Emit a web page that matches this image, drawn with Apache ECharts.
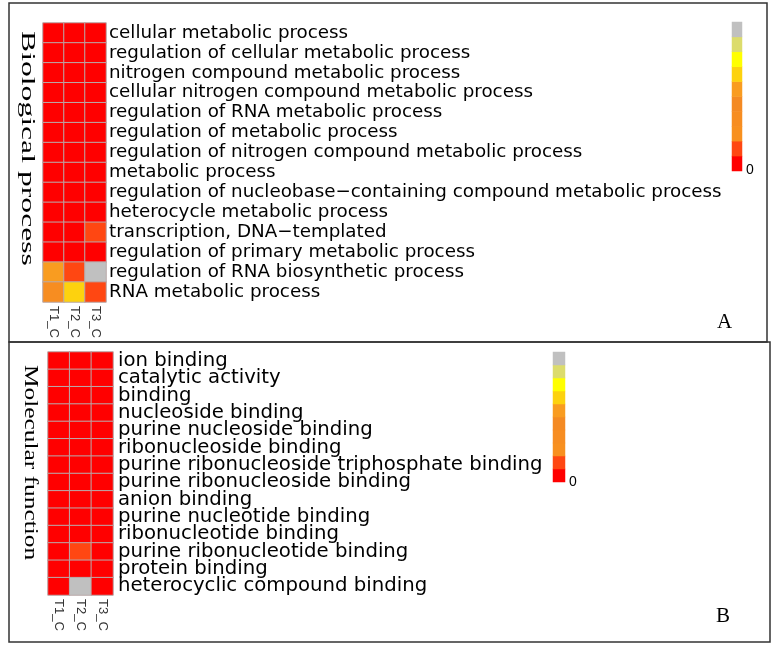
<!DOCTYPE html>
<html>
<head>
<meta charset="utf-8">
<script src="https://cdn.jsdelivr.net/npm/echarts@6/dist/echarts.min.js"></script>
<style>html,body{margin:0;padding:0;background:#fff}#c{width:775px;height:645px}</style>
</head>
<body>
<div id="c"></div>
<script>
// ---- data ----
const samples = ['T1_C', 'T2_C', 'T3_C'];

const bpTerms = [
  'cellular metabolic process',
  'regulation of cellular metabolic process',
  'nitrogen compound metabolic process',
  'cellular nitrogen compound metabolic process',
  'regulation of RNA metabolic process',
  'regulation of metabolic process',
  'regulation of nitrogen compound metabolic process',
  'metabolic process',
  'regulation of nucleobase\u2212containing compound metabolic process',
  'heterocycle metabolic process',
  'transcription, DNA\u2212templated',
  'regulation of primary metabolic process',
  'regulation of RNA biosynthetic process',
  'RNA metabolic process'
];
// colour level per term (rows) for T1_C, T2_C, T3_C; 'NA' = grey
const bpLevels = [
  [0, 0, 0], [0, 0, 0], [0, 0, 0], [0, 0, 0], [0, 0, 0], [0, 0, 0], [0, 0, 0],
  [0, 0, 0], [0, 0, 0], [0, 0, 0], [0, 0, 1], [0, 0, 0], [5, 1, 'NA'], [3, 6, 1]
];

const mfTerms = [
  'ion binding',
  'catalytic activity',
  'binding',
  'nucleoside binding',
  'purine nucleoside binding',
  'ribonucleoside binding',
  'purine ribonucleoside triphosphate binding',
  'purine ribonucleoside binding',
  'anion binding',
  'purine nucleotide binding',
  'ribonucleotide binding',
  'purine ribonucleotide binding',
  'protein binding',
  'heterocyclic compound binding'
];
const mfLevels = [
  [0, 0, 0], [0, 0, 0], [0, 0, 0], [0, 0, 0], [0, 0, 0], [0, 0, 0], [0, 0, 0],
  [0, 0, 0], [0, 0, 0], [0, 0, 0], [0, 0, 0], [0, 1, 0], [0, 0, 0], [0, 'NA', 0]
];

// colour key, bottom (0) to top (grey = NA)
const keyLevels = [0, 1, 2, 3, 4, 5, 6, 7, 8, 9];
const keyTickLabels = ['0', '', '', '', '', '', '', '', '', ''];
const NA_LEVEL = 9;
const levelColors = ['#ff0000', '#ff4712', '#f8901f', '#f78d21', '#f48a23', '#f99c20',
                     '#fdd20e', '#ffff00', '#dcdc6c', '#c0c0c0'];

// ---- build ----
function toCells(levels) {
  const out = [];
  levels.forEach((row, r) => row.forEach((v, c) => out.push([c, r, v === 'NA' ? NA_LEVEL : v])));
  return out;
}
const keyCells = keyLevels.map((v, i) => [0, i, v]);

const chart = echarts.init(document.getElementById('c'), null, {renderer: 'canvas'});
const sans = 'Liberation Sans, Arial, sans-serif';
const wide = 'DejaVu Sans, sans-serif';
const serif = 'Liberation Serif, Times New Roman, serif';

const cellStyle = {borderColor: '#b9a9a9', borderWidth: 1};

function catAxis(data, extra) {
  return Object.assign({
    type: 'category', data: data,
    axisLine: {show: false}, axisTick: {show: false}, splitLine: {show: false}, splitArea: {show: false}
  }, extra);
}

chart.setOption({
  animation: false,
  backgroundColor: '#fff',
  grid: [
    {left: 43, top: 23, width: 63, height: 279},
    {left: 48, top: 352, width: 65, height: 243},
    {left: 732, top: 22, width: 10, height: 149},
    {left: 553, top: 352, width: 12, height: 130}
  ],
  xAxis: [
    catAxis(samples, {gridIndex: 0, position: 'bottom',
      axisLabel: {rotate: -90, margin: 4, fontSize: 13, color: '#333', fontFamily: sans}}),
    catAxis(samples, {gridIndex: 1, position: 'bottom',
      axisLabel: {rotate: -90, margin: 4, fontSize: 13, color: '#333', fontFamily: sans}}),
    catAxis(['k'], {gridIndex: 2, axisLabel: {show: false}}),
    catAxis(['k'], {gridIndex: 3, axisLabel: {show: false}})
  ],
  yAxis: [
    catAxis(bpTerms, {gridIndex: 0, position: 'right', inverse: true,
      axisLabel: {margin: 3, fontSize: 18.3, color: '#000', fontFamily: wide, interval: 0}}),
    catAxis(mfTerms, {gridIndex: 1, position: 'right', inverse: true,
      axisLabel: {margin: 5, fontSize: 19.7, color: '#000', fontFamily: wide, interval: 0}}),
    catAxis(keyTickLabels, {gridIndex: 2, position: 'right',
      axisLabel: {margin: 4, fontSize: 14, color: '#000', fontFamily: sans, interval: 0,
        verticalAlign: 'top'}}),
    catAxis(keyTickLabels, {gridIndex: 3, position: 'right',
      axisLabel: {margin: 4, fontSize: 14, color: '#000', fontFamily: sans, interval: 0,
        verticalAlign: 'top'}})
  ],
  visualMap: {
    type: 'piecewise', show: false, dimension: 2, seriesIndex: [0, 1, 2, 3],
    pieces: levelColors.map((c, i) => ({value: i, color: c}))
  },
  series: [
    {type: 'heatmap', xAxisIndex: 0, yAxisIndex: 0, data: toCells(bpLevels), itemStyle: cellStyle},
    {type: 'heatmap', xAxisIndex: 1, yAxisIndex: 1, data: toCells(mfLevels), itemStyle: cellStyle},
    {type: 'heatmap', xAxisIndex: 2, yAxisIndex: 2, data: keyCells, itemStyle: {borderWidth: 0}},
    {type: 'heatmap', xAxisIndex: 3, yAxisIndex: 3, data: keyCells, itemStyle: {borderWidth: 0}}
  ],
  graphic: [
    {type: 'rect', shape: {x: 9, y: 3, width: 758, height: 339},
     style: {fill: null, stroke: '#333', lineWidth: 1.5}, silent: true},
    {type: 'rect', shape: {x: 9, y: 342, width: 761, height: 300},
     style: {fill: null, stroke: '#333', lineWidth: 1.5}, silent: true},
    {type: 'text', x: 36, y: 31, rotation: -Math.PI / 2, scaleX: 1.76,
     style: {text: 'Biological process', font: '18px ' + serif, fill: '#000',
       textAlign: 'left', textVerticalAlign: 'top'}},
    {type: 'text', x: 39, y: 365, rotation: -Math.PI / 2, scaleX: 1.41,
     style: {text: 'Molecular function', font: '18px ' + serif, fill: '#000',
       textAlign: 'left', textVerticalAlign: 'top'}},
    {type: 'text', x: 717, y: 312, style: {text: 'A', font: '21px ' + serif, fill: '#000'}},
    {type: 'text', x: 716, y: 606, style: {text: 'B', font: '21px ' + serif, fill: '#000'}}
  ]
});
</script>
</body>
</html>
